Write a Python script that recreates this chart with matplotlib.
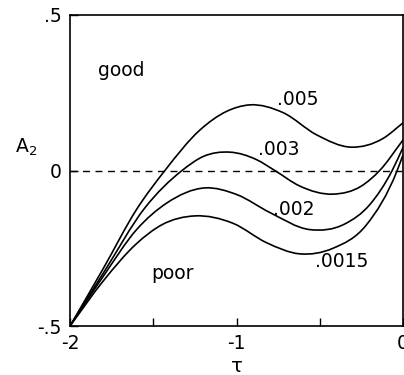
import numpy as np
import matplotlib
matplotlib.use("Agg")
import matplotlib.pyplot as plt
from matplotlib.path import Path
from matplotlib.patches import PathPatch

# valores (tau, A2)
x_005 = [-2.0, -1.8, -1.6, -1.43, -1.22, -1.06, -0.92, -0.72, -0.52, -0.31, -0.12, 0.0]
y_005 = [-0.5, -0.315, -0.125, 0.0, 0.13, 0.19, 0.211, 0.186, 0.115, 0.075, 0.103, 0.153]

x_003 = [-2.0, -1.8, -1.55, -1.327, -1.2, -1.04, -0.88, -0.77, -0.62, -0.42, -0.25, -0.14, 0.0]
y_003 = [-0.5, -0.33, -0.12, 0.0, 0.045, 0.059, 0.035, 0.0, -0.05, -0.076, -0.05, 0.0, 0.098]

x_002 = [-2.0, -1.8, -1.6, -1.42, -1.19, -1.0, -0.8, -0.56, -0.35, -0.2, -0.065, 0.0]
y_002 = [-0.5, -0.34, -0.19, -0.105, -0.056, -0.077, -0.135, -0.19, -0.172, -0.11, 0.0, 0.074]

x_0015 = [-2.0, -1.8, -1.6, -1.45, -1.25, -1.02, -0.82, -0.62, -0.42, -0.22, -0.035, 0.0]
y_0015 = [-0.5, -0.355, -0.235, -0.175, -0.146, -0.17, -0.232, -0.268, -0.25, -0.175, 0.0, 0.05]

curve_labels = [".005", ".003", ".002", ".0015"]
label_pos = [(-0.757, 0.227), (-0.871, 0.066), (-0.78, -0.127), (-0.53, -0.294)]

xticks = [-2, -1.5, -1, -0.5, 0]
xticklabels = ["-2", "", "-1", "", "0"]
yticks = [-0.5, 0, 0.5]
yticklabels = ["-.5", "0", ".5"]


def smooth_path(xs, ys):
    # curva de Hermite por tramos, dibujada con Bezier cubicas
    xs = np.asarray(xs, float)
    ys = np.asarray(ys, float)
    n = len(xs)
    d = np.diff(ys) / np.diff(xs)
    h = np.diff(xs)
    m = np.empty(n)
    m[0] = d[0]
    m[-1] = d[-1]
    for i in range(1, n - 1):
        # pendiente ponderada por la longitud de los tramos
        m[i] = (d[i - 1] * h[i] + d[i] * h[i - 1]) / (h[i - 1] + h[i])
    verts = [(xs[0], ys[0])]
    codes = [Path.MOVETO]
    for i in range(n - 1):
        dx = h[i]
        verts += [(xs[i] + dx / 3, ys[i] + m[i] * dx / 3),
                  (xs[i + 1] - dx / 3, ys[i + 1] - m[i + 1] * dx / 3),
                  (xs[i + 1], ys[i + 1])]
        codes += [Path.CURVE4] * 3
    return Path(verts, codes)


plt.rcParams["font.family"] = "DejaVu Sans"
fig = plt.figure(figsize=(4.04, 3.75), dpi=100)
ax = fig.add_axes([70 / 404, 49 / 375, 333 / 404, 311 / 375])

for xs, ys in [(x_005, y_005), (x_003, y_003), (x_002, y_002), (x_0015, y_0015)]:
    ax.add_patch(PathPatch(smooth_path(xs, ys), fill=False, lw=1.2, color="black",
                           capstyle="round", joinstyle="round"))

ax.axhline(0, color="black", lw=1.0, ls=(0, (5, 4)))

for txt, (tx, ty) in zip(curve_labels, label_pos):
    ax.text(tx, ty, txt, fontsize=13.5, ha="left", va="center")

ax.text(-1.69, 0.323, "good", fontsize=13.5, ha="center", va="center")
ax.text(-1.387, -0.33, "poor", fontsize=13.5, ha="center", va="center")

ax.set_xlim(-2, 0)
ax.set_ylim(-0.5, 0.5)
ax.set_xticks(xticks)
ax.set_xticklabels(xticklabels, fontsize=13.5)
ax.set_yticks(yticks)
ax.set_yticklabels(yticklabels, fontsize=13.5)
ax.tick_params(direction="in", length=6, width=1, pad=6)
for s in ax.spines.values():
    s.set_linewidth(1.2)

fig.text(237 / 404, 1 - 366 / 375, "τ", fontsize=14, ha="center", va="center")
fig.text(26 / 404, 1 - 147 / 375, r"$\mathregular{A_2}$", fontsize=13.5,
         ha="center", va="center")

fig.savefig("out.png", dpi=100)
